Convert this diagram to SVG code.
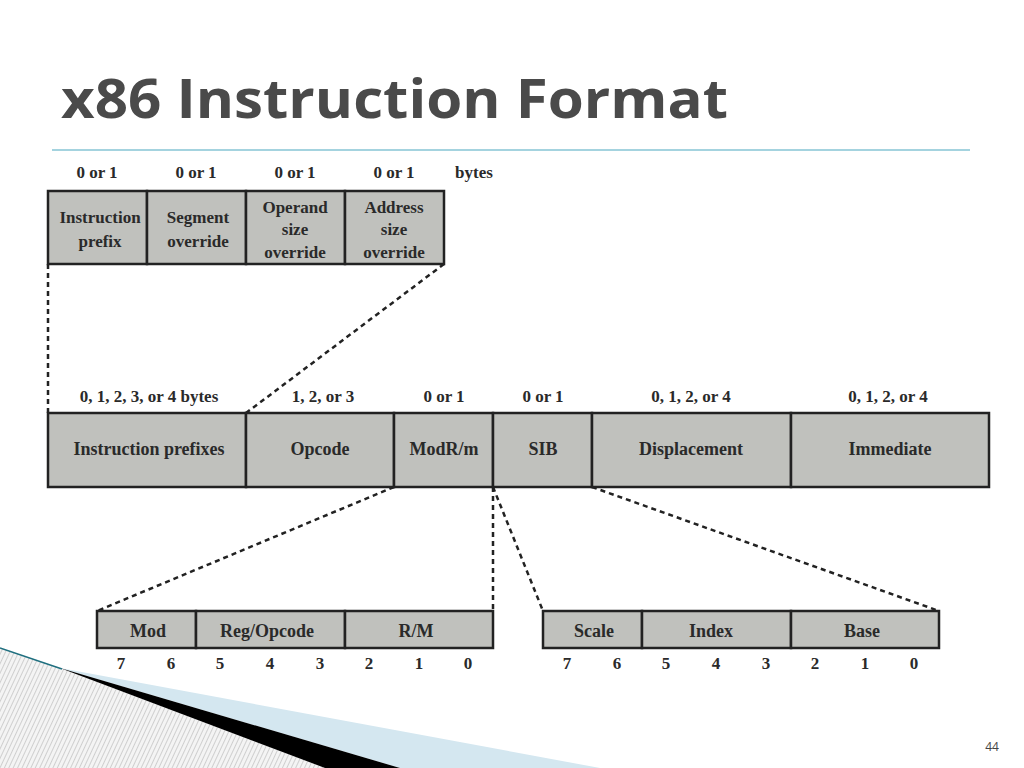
<svg xmlns="http://www.w3.org/2000/svg" width="1024" height="768" viewBox="0 0 1024 768">
<defs>
<pattern id="hatch" width="4" height="4" patternUnits="userSpaceOnUse" patternTransform="rotate(25)">
<rect width="4" height="4" fill="#f4f4f4"/><line x1="0" y1="0" x2="0" y2="4" stroke="#aaa" stroke-width="1"/>
</pattern>
</defs>
<style>
.box{fill:#c0c1bd;stroke:#222;stroke-width:2.5}
.t{font-family:"Liberation Serif",serif;font-weight:bold;fill:#2a2a2a;text-anchor:middle}
.l{font-size:18px}.s{font-size:17px}
.d{stroke:#222;stroke-width:2.5;stroke-dasharray:5,4;fill:none}
</style>
<rect width="1024" height="768" fill="#fff"/>
<polygon points="0,648 60,668 325,768 0,768" fill="url(#hatch)"/>
<polygon points="60,668 600,768 400,768" fill="#d4e7f0"/>
<polygon points="60,668 400,768 325,768" fill="#000"/>
<line x1="0" y1="648" x2="62" y2="669" stroke="#1f6f7f" stroke-width="1.5"/>
<text x="61" y="118" font-family="Open Sans,sans-serif" font-weight="bold" font-size="54" fill="#4a4a4a" textLength="667" lengthAdjust="spacingAndGlyphs">x86 Instruction Format</text>
<line x1="52" y1="150" x2="970" y2="150" stroke="#4aa8c0" stroke-width="1.2"/>
<g id="connectors">
<path class="d" d="M48,264 L48,413"/>
<path class="d" d="M444,264 L246,413"/>
<path class="d" d="M394,487 L97,611"/>
<path class="d" d="M493,487 L493,611"/>
<path class="d" d="M493,487 L543,611"/>
<path class="d" d="M592,487 L939,611"/>
</g>
<g id="prefix-bytes" class="t s">
<text x="97" y="178">0 or 1</text><text x="196" y="178">0 or 1</text><text x="295" y="178">0 or 1</text><text x="394" y="178">0 or 1</text><text x="474" y="178">bytes</text>
</g>
<g id="prefix-boxes">
<rect class="box" x="48" y="191" width="99" height="73"/>
<rect class="box" x="147" y="191" width="99" height="73"/>
<rect class="box" x="246" y="191" width="99" height="73"/>
<rect class="box" x="345" y="191" width="99" height="73"/>
<g class="t s">
<text x="100" y="223">Instruction</text><text x="100" y="247">prefix</text>
<text x="198" y="223">Segment</text><text x="198" y="247">override</text>
<text x="295" y="213">Operand</text><text x="295" y="235">size</text><text x="295" y="258">override</text>
<text x="394" y="213">Address</text><text x="394" y="235">size</text><text x="394" y="258">override</text>
</g>
</g>
<g id="main-sizes" class="t s">
<text x="149" y="402">0, 1, 2, 3, or 4 bytes</text><text x="323" y="402">1, 2, or 3</text><text x="444" y="402">0 or 1</text><text x="543" y="402">0 or 1</text><text x="691" y="402">0, 1, 2, or 4</text><text x="888" y="402">0, 1, 2, or 4</text>
</g>
<g id="main-boxes">
<rect class="box" x="48" y="413" width="198" height="74"/>
<rect class="box" x="246" y="413" width="148" height="74"/>
<rect class="box" x="394" y="413" width="99" height="74"/>
<rect class="box" x="493" y="413" width="99" height="74"/>
<rect class="box" x="592" y="413" width="199" height="74"/>
<rect class="box" x="791" y="413" width="198" height="74"/>
<g class="t l">
<text x="149" y="455">Instruction prefixes</text><text x="320" y="455">Opcode</text><text x="444" y="455">ModR/m</text><text x="543" y="455">SIB</text><text x="691" y="455">Displacement</text><text x="890" y="455">Immediate</text>
</g>
</g>
<g id="modrm">
<rect class="box" x="97" y="611" width="99" height="37"/>
<rect class="box" x="196" y="611" width="149" height="37"/>
<rect class="box" x="345" y="611" width="148" height="37"/>
<g class="t l"><text x="148" y="637">Mod</text><text x="267" y="637">Reg/Opcode</text><text x="416" y="637">R/M</text></g>
<g class="t s"><text x="121" y="669">7</text><text x="171" y="669">6</text><text x="220" y="669">5</text><text x="270" y="669">4</text><text x="320" y="669">3</text><text x="369" y="669">2</text><text x="419" y="669">1</text><text x="468" y="669">0</text></g>
</g>
<g id="sib">
<rect class="box" x="543" y="611" width="99" height="37"/>
<rect class="box" x="642" y="611" width="149" height="37"/>
<rect class="box" x="791" y="611" width="148" height="37"/>
<g class="t l"><text x="594" y="637">Scale</text><text x="711" y="637">Index</text><text x="862" y="637">Base</text></g>
<g class="t s"><text x="567" y="669">7</text><text x="617" y="669">6</text><text x="666" y="669">5</text><text x="716" y="669">4</text><text x="766" y="669">3</text><text x="815" y="669">2</text><text x="865" y="669">1</text><text x="914" y="669">0</text></g>
</g>
<text x="992" y="751" font-family="Open Sans,sans-serif" font-size="12" fill="#444" text-anchor="middle">44</text>
</svg>
